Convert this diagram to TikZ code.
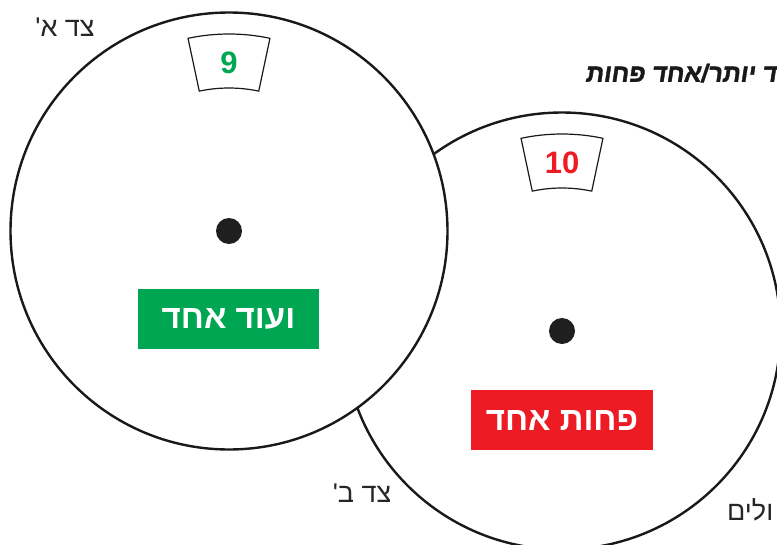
\documentclass[tikz,border=0pt]{standalone}
\usepackage{fontspec}
\TeXXeTstate=1
\newfontfamily\heb[Script=Hebrew]{Liberation Sans}
\newfontfamily\hebcur[Script=Hebrew,FakeSlant=0.15,FakeBold=1.5]{Liberation Sans}
\setmainfont{Liberation Sans}
\definecolor{mygreen}{HTML}{00A651}
\definecolor{myred}{HTML}{ED1C24}
\tikzset{
  wheel/.style={circle, draw=black!90, line width=2.4pt, fill=white, minimum size=437pt, inner sep=0pt},
  hub/.style={circle, fill=black!88, minimum size=26pt, inner sep=0pt},
  tabline/.style={draw=black!90, line width=1.2pt, fill=white},
  numtxt/.style={font=\bfseries\fontsize{31}{31}\selectfont, inner sep=0pt},
  btn/.style={minimum width=#1, minimum height=60pt, inner sep=0pt, text=white, font=\heb\bfseries\fontsize{33}{33}\selectfont},
  lbl/.style={font=\heb\fontsize{27}{27}\selectfont, text=black!85, inner sep=0pt}
}
\begin{document}
\begin{tikzpicture}[x=1pt,y=-1pt]
\path[use as bounding box, fill=white] (0,0) rectangle (777,544);
% right wheel
\node[wheel] (B) at (562,331) {};
\begin{scope}[shift={(562,331)}, y=1pt]
  \path[tabline] (78:197) arc[start angle=78,end angle=102,radius=197] -- (102:143) arc[start angle=102,end angle=78,radius=143] -- cycle;
\end{scope}
\node[numtxt, text=myred] (nB) at (562,163) {10};
\node[hub] (hB) at (B.center) {};
\node[btn=182pt, fill=myred] (bB) at (562,420) {\beginR פחות אחד\endR};
% left wheel
\node[wheel] (A) at (229,231) {};
\begin{scope}[shift={(229,231)}, y=1pt]
  \path[tabline] (78:197) arc[start angle=78,end angle=102,radius=197] -- (102:143) arc[start angle=102,end angle=78,radius=143] -- cycle;
\end{scope}
\node[numtxt, text=mygreen] (nA) at (229,63) {9};
\node[hub] (hA) at (A.center) {};
\node[btn=181pt, fill=mygreen] (bA) at (228.5,319) {\beginR ועוד אחד\endR};
% labels
\node[lbl] (la) at (65,27) {\beginR צד א'\endR};
\node[lbl] (lb) at (362,493) {\beginR צד ב'\endR};
\node[lbl, anchor=west] (lc) at (727,510) {\beginR ולים\endR};
\node[anchor=west, inner sep=0pt, font=\hebcur\bfseries\fontsize{25}{25}\selectfont, text=black!90] (title) at (585,73) {\beginR אחד יותר/אחד פחות\endR};
\end{tikzpicture}
\end{document}
